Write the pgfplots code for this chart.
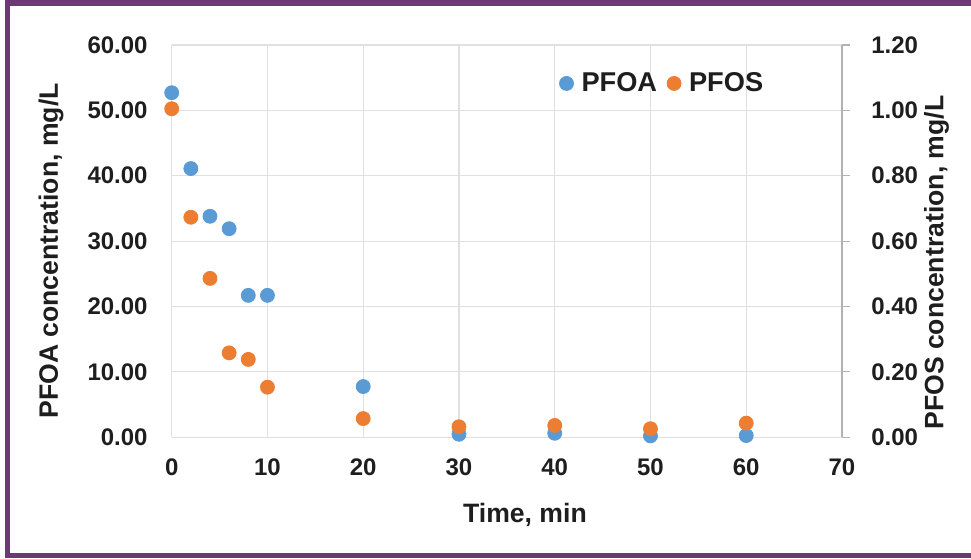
\documentclass[border=0pt]{standalone}
\usepackage{pgfplots}
\pgfplotsset{compat=1.18}
\usepackage{fontspec}
\setmainfont{Liberation Sans}

\definecolor{pfoa}{HTML}{5B9BD5}
\definecolor{pfos}{HTML}{ED7D31}
\definecolor{framec}{HTML}{6B3A72}
\definecolor{gridc}{HTML}{E0E0E0}
\definecolor{txt}{HTML}{1E1E1E}

% Time [min], concentration [mg/L]
\pgfplotstableread{
t    c
0    52.7
2    41.1
4    33.8
6    31.9
8    21.7
10   21.7
20   7.75
30   0.45
40   0.6
50   0.2
60   0.25
}\pfoadata

\pgfplotstableread{
t    c
0    1.005
2    0.673
4    0.486
6    0.258
8    0.238
10   0.153
20   0.057
30   0.032
40   0.036
50   0.026
60   0.043
}\pfosdata

\pgfplotsset{
    common/.style={
        scale only axis,
        width=335.15pt,
        height=196.1pt,
        xmin=0, xmax=70,
        /pgf/number format/assume math mode=true,
        tick label style={font=\fontsize{12}{14}\selectfont\bfseries, text=txt},
        label style={font=\fontsize{13.3}{15}\selectfont\bfseries, text=txt},
    },
    twodec/.style={
        /pgf/number format/fixed,
        /pgf/number format/fixed zerofill,
        /pgf/number format/precision=2,
    },
}

\begin{document}
\begin{tikzpicture}
    \begin{axis}[
        common,
        ymin=0, ymax=60,
        xtick={0,10,...,70},
        ytick={0,10,...,60},
        yticklabel style={twodec, anchor=east, inner sep=0pt, xshift=-11.85pt},
        xticklabel style={anchor=center, inner sep=0pt, yshift=-14.9pt},
        axis line style={draw=none},
        tick style={draw=none},
        grid=major,
        major grid style={draw=gridc, line width=0.6pt},
        xlabel={Time, min},
        ylabel={PFOA concentration, mg/L},
        xlabel style={at={(axis description cs:0.527,-0.198)}, anchor=center},
        ylabel style={at={(axis description cs:-0.18,0.475)}, anchor=center},
        legend columns=2,
        legend style={
            at={(0.5786,0.902)}, anchor=west,
            draw=none, fill=none, inner sep=0pt, outer sep=0pt,
            font=\fontsize{13.6}{15}\selectfont\bfseries,
            text=txt,
            /tikz/every odd column/.append style={column sep=2pt},
            /tikz/every even column/.append style={column sep=3pt},
        },
        legend image code/.code={
            \draw[#1, mark repeat=1] plot coordinates {(3.25pt,0pt)};
        },
    ]
        \addplot[only marks, mark=*, mark size=3.5pt, color=pfoa, mark options={fill=pfoa, draw=pfoa}]
            table[x=t, y=c] {\pfoadata};
        \addlegendentry{PFOA}
        \addlegendimage{only marks, mark=*, mark size=3.5pt, color=pfos, mark options={fill=pfos, draw=pfos}}
        \addlegendentry{PFOS}
    \end{axis}

    \begin{axis}[
        common,
        ymin=0, ymax=1.2,
        ytick={0,0.2,...,1.2},
        axis x line=none,
        axis y line*=right,
        axis line style={draw=black!30, line width=0.6pt, -},
        ytick style={draw=black!30, line width=0.6pt},
        tick align=outside,
        major tick length=4pt,
        yticklabel style={twodec, anchor=west, inner sep=0pt, xshift=10.5pt},
        ylabel={PFOS concentration, mg/L},
        ylabel style={at={(axis description cs:1.141,0.445)}, anchor=center, rotate=0},
    ]
        \addplot[only marks, mark=*, mark size=3.5pt, color=pfos, mark options={fill=pfos, draw=pfos}]
            table[x=t, y=c] {\pfosdata};
    \end{axis}

    % purple frame bands
    \fill[framec] (-83.35pt,215.35pt) rectangle (399.65pt,218.6pt);
    \fill[framec] (-83.35pt,-60.4pt) rectangle (-80.6pt,218.6pt);
    \fill[framec] (-83.35pt,-60.4pt) rectangle (399.65pt,-57.9pt);

    \pgfresetboundingbox
    \path[use as bounding box] (-85.85pt,-60.4pt) rectangle (399.65pt,218.6pt);
\end{tikzpicture}
\end{document}
